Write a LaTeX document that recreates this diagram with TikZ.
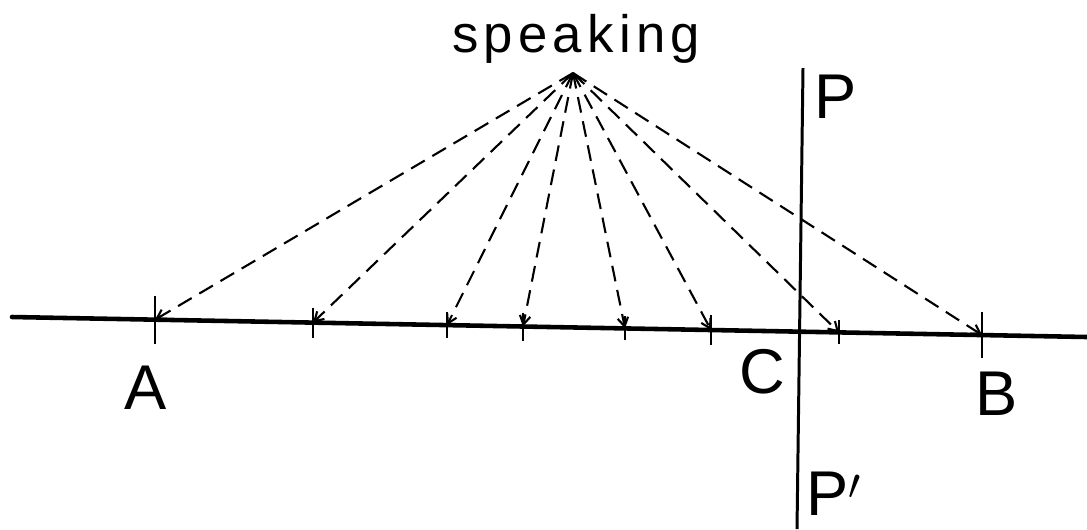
\documentclass[tikz,border=0pt]{standalone}
\usepackage{fontspec}
\setmainfont{Liberation Sans}
\newfontfamily\spaced[LetterSpace=10]{Liberation Sans}
\usetikzlibrary{arrows.meta}

\begin{document}
\begin{tikzpicture}[
    x=0.02cm, y=-0.02cm,
    axis/.style={line width=2.6pt, line cap=round},
    wall/.style={line width=1.7pt},
    tick/.style={line width=1.4pt},
    ray/.style={dashed, dash pattern=on 9pt off 5pt, line width=1.2pt,
                -{Straight Barb[length=5pt, width=6pt]}},
    lbl/.style={font=\fontsize{36}{36}\selectfont, inner sep=0pt}
]
  \useasboundingbox (0,0) rectangle (1087,529);

  % Source point
  \coordinate (spk) at (573,73);
  \node[font=\fontsize{30}{30}\selectfont\spaced, anchor=base] (spktxt)
       at (576,52) {speaking};

  % Main line
  \coordinate (L) at (12,317);
  \coordinate (R) at (1087,337);
  \draw[axis] (L) -- (R);

  % Plane P P'
  \coordinate (Ptop) at (803,68);
  \coordinate (Pbot) at (797,529);
  \draw[wall] (Ptop) -- (Pbot);

  % Ticks and rays
  \foreach \n/\x/\y/\h in {A/155/319.7/24, t1/313/322.6/15, t2/447/325.1/13,
                           t3/523/326.5/14, t4/625/328.4/12, t5/711/330/15,
                           t6/839/332.4/12, B/982/335/23}{
    \coordinate (\n) at (\x,\y);
    \draw[tick] (\x,\y-\h) -- (\x,\y+\h);
    \draw[ray] (spk) -- (\n);
  }

  % Labels
  \node[lbl] (lA) at (146,388) {A};
  \node[lbl] (lC) at (762,372) {C};
  \node[lbl] (lB) at (997,394) {B};
  \node[lbl] (lP) at (836,97) {P};
  \node[lbl] (lPp) at (834,494) {P$'$};
\end{tikzpicture}
\end{document}
